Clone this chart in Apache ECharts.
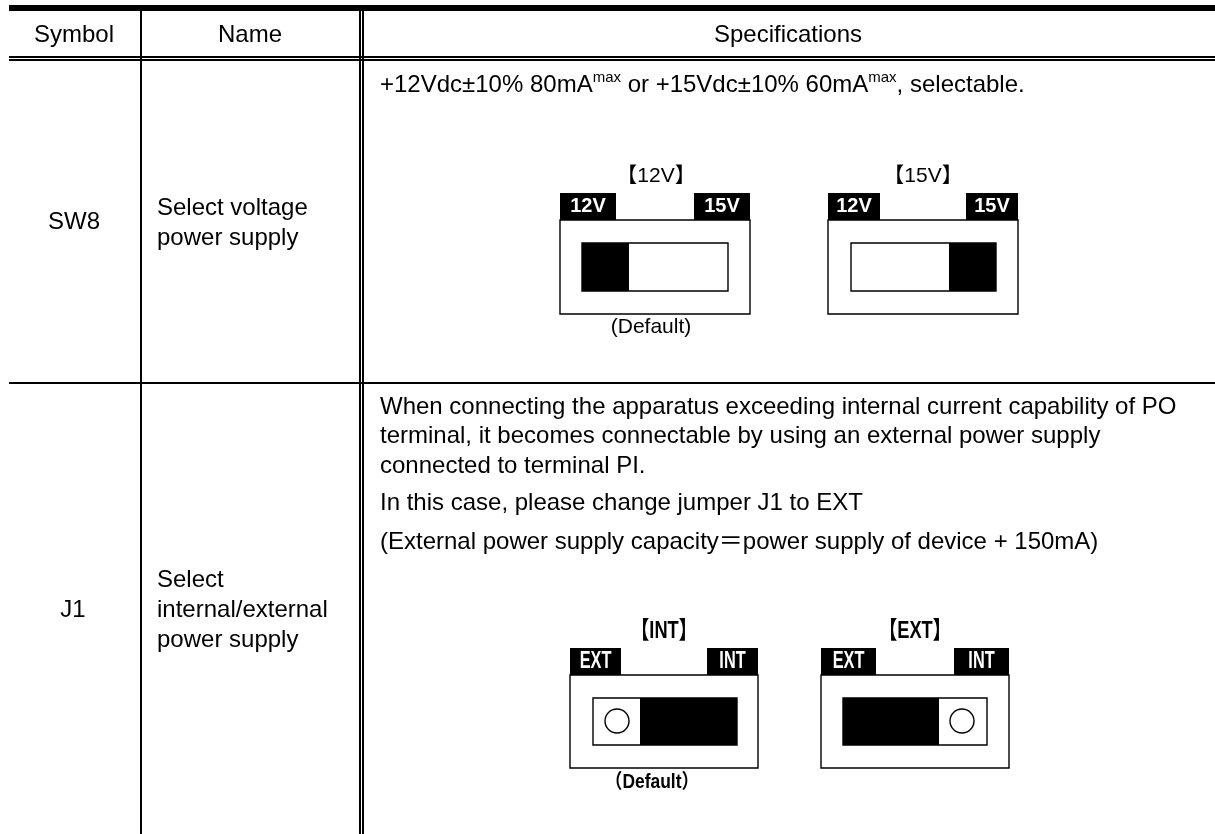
<!DOCTYPE html>
<html>
<head>
<meta charset="utf-8">
<style>
html, body { margin: 0; padding: 0; background: #fff; }
#main { width: 1215px; height: 834px; }
</style>
<script src="https://cdn.jsdelivr.net/npm/echarts@6/dist/echarts.min.js"></script>
</head>
<body>
<div id="main"></div>
<script>
const headers = ['Symbol', 'Name', 'Specifications'];
const symbols = ['SW8', 'J1'];
const names = [
  ['Select voltage', 'power supply'],
  ['Select', 'internal/external', 'power supply'],
];
const specLines = [
  'When connecting the apparatus exceeding internal current capability of PO',
  'terminal, it becomes connectable by using an external power supply',
  'connected to terminal PI.',
  'In this case, please change jumper J1 to EXT',
  '(External power supply capacity＝power supply of device + 150mA)',
];
const FONT = '"Liberation Sans", Arial, "Noto Sans CJK JP", sans-serif';

const els = [];
const rect = (x, y, w, h, fill, stroke) => els.push({
  type: 'rect', shape: { x, y, width: w, height: h },
  style: { fill: fill || 'none', stroke: stroke || null, lineWidth: stroke ? 1.4 : 0 },
});
const label = (text, x, y, size, opt) => els.push({
  type: 'text', x, y,
  style: Object.assign({ text, font: size + 'px ' + FONT, fill: '#000', align: 'center', verticalAlign: 'middle' }, opt),
});

// table rules
rect(9, 5, 1206, 6, '#000');
rect(9, 56, 1206, 2, '#000');
rect(9, 59, 1206, 2, '#000');
rect(9, 382, 1206, 2, '#000');
rect(140, 11, 2, 823, '#000');
rect(359, 11, 2, 823, '#000');
rect(362, 11, 2, 823, '#000');

// header and first columns
label(headers[0], 74, 35, 24);
label(headers[1], 250, 35, 24);
label(headers[2], 788, 35, 24);
label(symbols[0], 74, 222, 24);
label(symbols[1], 73, 610, 24);
names[0].forEach((t, i) => label(t, 157, 208 + i * 30, 24, { align: 'left' }));
names[1].forEach((t, i) => label(t, 157, 580 + i * 30, 24, { align: 'left' }));

// spec text
els.push({
  type: 'text', x: 380, y: 85,
  style: {
    text: '{n|+12Vdc±10% 80mA}{s|max}{n| or +15Vdc±10% 60mA}{s|max}{n|, selectable.}',
    align: 'left', verticalAlign: 'middle',
    rich: {
      n: { font: '24px ' + FONT, fill: '#000', lineHeight: 30 },
      s: { font: '15px ' + FONT, fill: '#000', lineHeight: 30, verticalAlign: 'top' },
    },
  },
});
[407, 436, 466, 503, 542].forEach((y, i) => label(specLines[i], 380, y, 24, { align: 'left' }));

// switch drawing
function sw(o) {
  const h = o.h, r = o.x + o.w;
  rect(o.x, o.y + 27, o.w, h, '#fff', '#000');
  rect(o.x, o.y, o.tabL, 27, '#000');
  rect(r - o.tabR, o.y, o.tabR, 27, '#000');
  rect(o.ix, o.y + 50, o.iw, h - 46, '#fff', '#000');
  rect(o.bx, o.y + 50, o.bw, h - 46, '#000');
  const tabFont = (o.narrow ? 'bold 24px ' : 'bold 20px ') + FONT;
  const sx = o.narrow ? 0.68 : 1;
  const tab = (t, x) => els.push({
    type: 'text', x, y: o.y + 13, scaleX: sx,
    style: { text: t, font: tabFont, fill: '#fff', align: 'center', verticalAlign: 'middle' },
  });
  tab(o.left, o.x + o.tabL / 2);
  tab(o.right, r - o.tabR / 2);
  els.push({
    type: 'text', x: o.tx, y: o.y - (o.narrow ? 17 : 17), scaleX: o.narrow ? 0.76 : 1,
    style: { text: o.title, font: (o.narrow ? 'bold 24px ' : '21px ') + FONT, fill: '#000', align: 'center', verticalAlign: 'middle' },
  });
  if (o.cx) {
    els.push({ type: 'circle', shape: { cx: o.cx, cy: o.y + 73, r: 12 }, style: { fill: '#fff', stroke: '#000', lineWidth: 1.4 } });
  }
  if (o.def) {
    els.push({
      type: 'text', x: o.def, y: o.y + 134, scaleX: o.narrow ? 0.87 : 1,
      style: { text: o.narrow ? '（Default）' : '(Default)', font: (o.narrow ? 'bold 20px ' : '21px ') + FONT, fill: '#000', align: 'center', verticalAlign: 'middle' },
    });
  }
}
sw({ x: 560, y: 193, w: 190, h: 94, tabL: 56, tabR: 56, ix: 582, iw: 146, bx: 582, bw: 47, left: '12V', right: '15V', title: '【12V】', tx: 656, def: 651 });
sw({ x: 828, y: 193, w: 190, h: 94, tabL: 52, tabR: 52, ix: 851, iw: 145, bx: 949, bw: 47, left: '12V', right: '15V', title: '【15V】', tx: 923 });
sw({ x: 570, y: 648, w: 188, h: 93, tabL: 51, tabR: 51, ix: 593, iw: 144, bx: 640, bw: 97, left: 'EXT', right: 'INT', title: '【INT】', tx: 664, cx: 617, def: 652, narrow: true });
sw({ x: 821, y: 648, w: 188, h: 93, tabL: 55, tabR: 55, ix: 843, iw: 144, bx: 843, bw: 96, left: 'EXT', right: 'INT', title: '【EXT】', tx: 915, cx: 962, narrow: true });

const chart = echarts.init(document.getElementById('main'), null, { renderer: 'canvas' });
chart.setOption({
  backgroundColor: '#fff',
  animation: false,
  graphic: { elements: els },
});
</script>
</body>
</html>
